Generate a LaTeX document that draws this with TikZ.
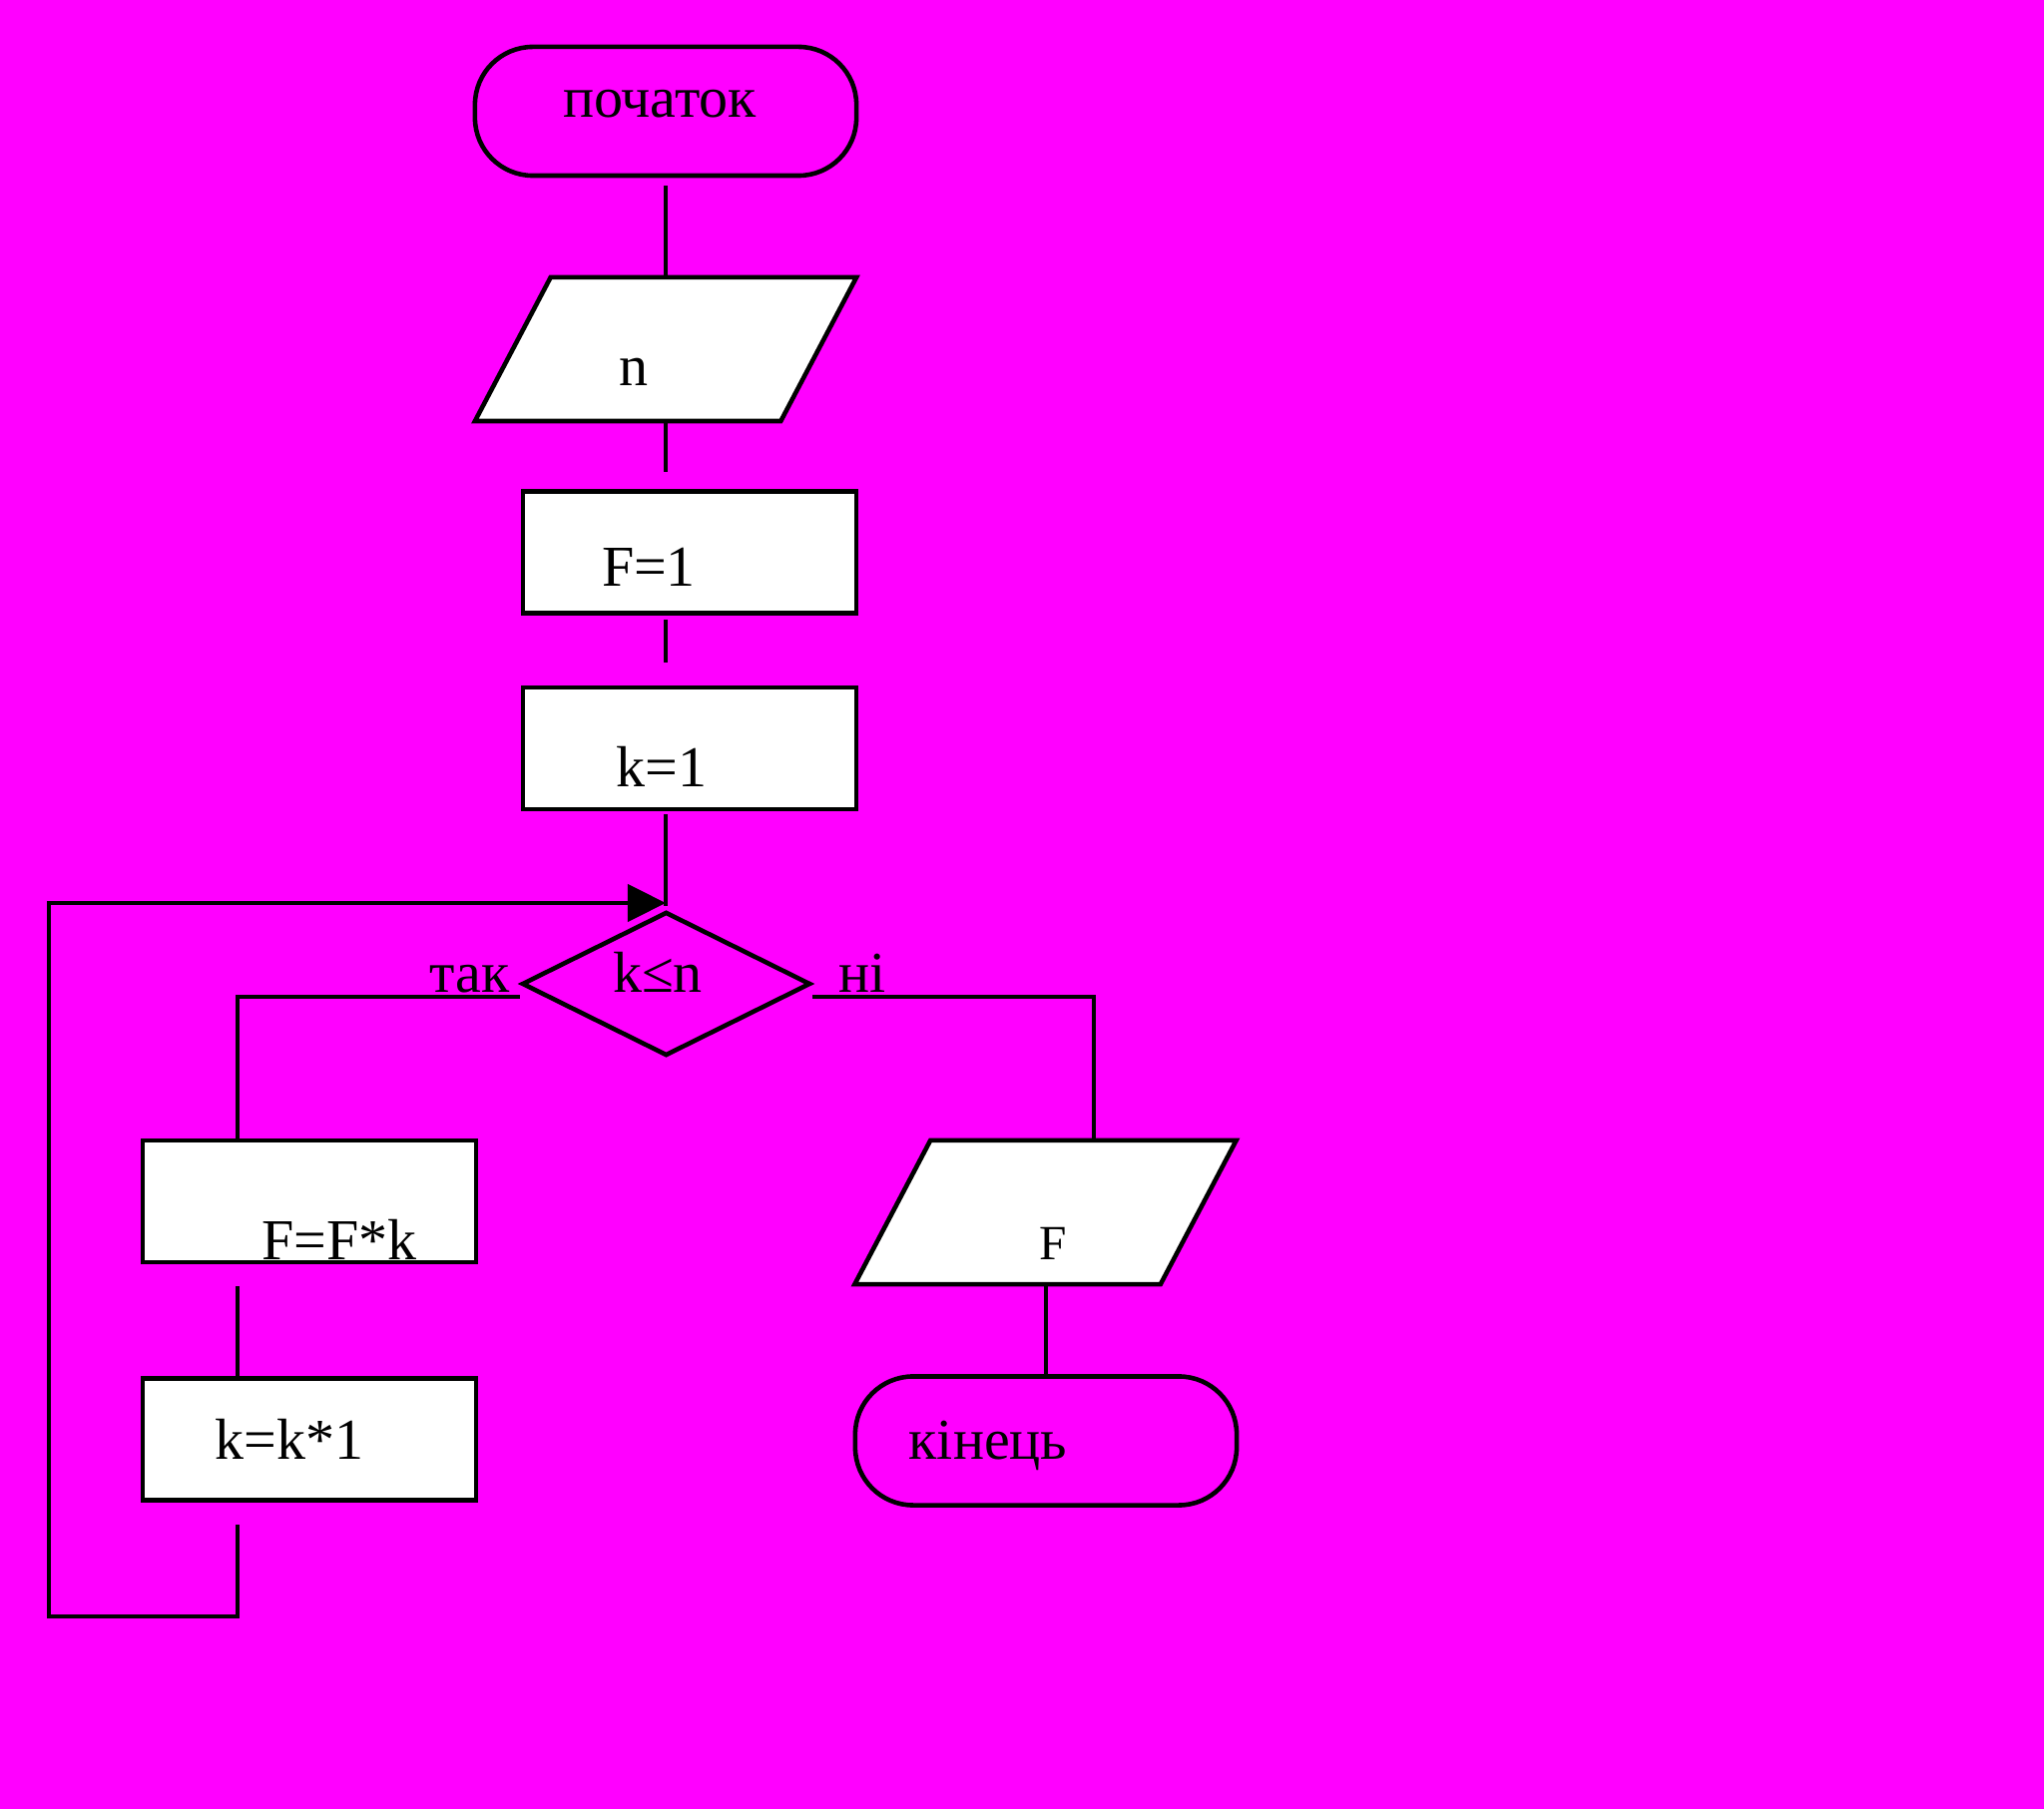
\documentclass[tikz,border=0pt]{standalone}
\usepackage{fontspec}
\setmainfont{Liberation Serif}
\usetikzlibrary{arrows.meta,shapes.geometric}
\definecolor{bgmag}{RGB}{255,0,255}

\begin{document}
\begin{tikzpicture}[x=0.01cm,y=-0.01cm,line width=1.3pt,
  proc/.style={draw,fill=white,rectangle,inner sep=0pt,minimum width=3.34cm,minimum height=1.22cm},
  io/.style={draw,fill=white,trapezium,trapezium left angle=71.8,trapezium right angle=108.2,
    trapezium stretches=true,inner sep=1pt,minimum width=3.82cm,minimum height=1.44cm},
  term/.style={draw,rectangle,rounded corners=0.58cm,inner sep=0pt,minimum width=3.82cm,minimum height=1.29cm},
  decide/.style={draw,diamond,inner sep=0pt,minimum width=2.89cm,minimum height=1.44cm},
  lbl/.style={anchor=base,inner sep=0pt,font=\fontsize{16.5}{18}\selectfont}]
  \fill[bgmag] (0,0) rectangle (2048,1813);
  \useasboundingbox (0,0) rectangle (2048,1813);

  \node[term] (start) at (667,111.5) {};
  \node[io] (inN) at (667,350) {};
  \node[proc] (setF) at (691,553.5) {};
  \node[proc] (setK) at (691,750) {};
  \node[decide] (cond) at (667.5,986) {};
  \node[proc] (mulF) at (310,1204) {};
  \node[proc] (incK) at (310,1442.5) {};
  \node[io] (outF) at (1047.5,1215) {};
  \node[term] (stop) at (1048,1444) {};

  \node[lbl] (tStart) at (661,118) {початок};
  \node[lbl] (tN) at (635,387) {n};
  \node[lbl] (tF1) at (650,588) {F=1};
  \node[lbl] (tK1) at (663,789) {k=1};
  \node[lbl] (tCond) at (659,995) {k≤n};
  \node[lbl,anchor=base east] (tYes) at (513,995) {так};
  \node[lbl,anchor=base west] (tNo) at (838,995) {ні};
  \node[lbl] (tMul) at (340,1262) {F=F*k};
  \node[lbl] (tInc) at (290,1462) {k=k*1};
  \node[lbl,font=\fontsize{14}{16}\selectfont] (tOut) at (1055,1262) {F};
  \node[lbl] (tStop) at (990,1462) {кінець};

  \coordinate (axis) at (667,0);
  \coordinate (laxis) at (238,0);
  \coordinate (join) at (667,905);
  \coordinate (loopR) at (238,1620);
  \coordinate (loopL) at (49,1620);
  \coordinate (loopT) at (49,905);

  \draw ([yshift=-0.08cm]axis |- start.south) -- (axis |- inN.north);
  \draw (axis |- inN.south) -- ([yshift=0.17cm]axis |- setF.north);
  \draw ([yshift=-0.04cm]axis |- setF.south) -- ([yshift=0.23cm]axis |- setK.north);
  \draw ([yshift=-0.03cm]axis |- setK.south) -- ([yshift=-0.03cm]join);
  \draw[-{Triangle[length=0.38cm,width=0.37cm]}] ([yshift=-0.22cm]laxis |- incK.south)
    -- (loopR) -- (loopL) -- (loopT) -- (join);
  \draw ([yshift=-0.13cm]cond.west) -| (laxis |- mulF.north);
  \draw ([yshift=-0.13cm]cond.east) -| ([xshift=0.48cm]stop.north |- outF.north);
  \draw ([yshift=-0.22cm]laxis |- mulF.south) -- (laxis |- incK.north);
  \draw (stop.north |- outF.south) -- (stop.north);
\end{tikzpicture}
\end{document}
